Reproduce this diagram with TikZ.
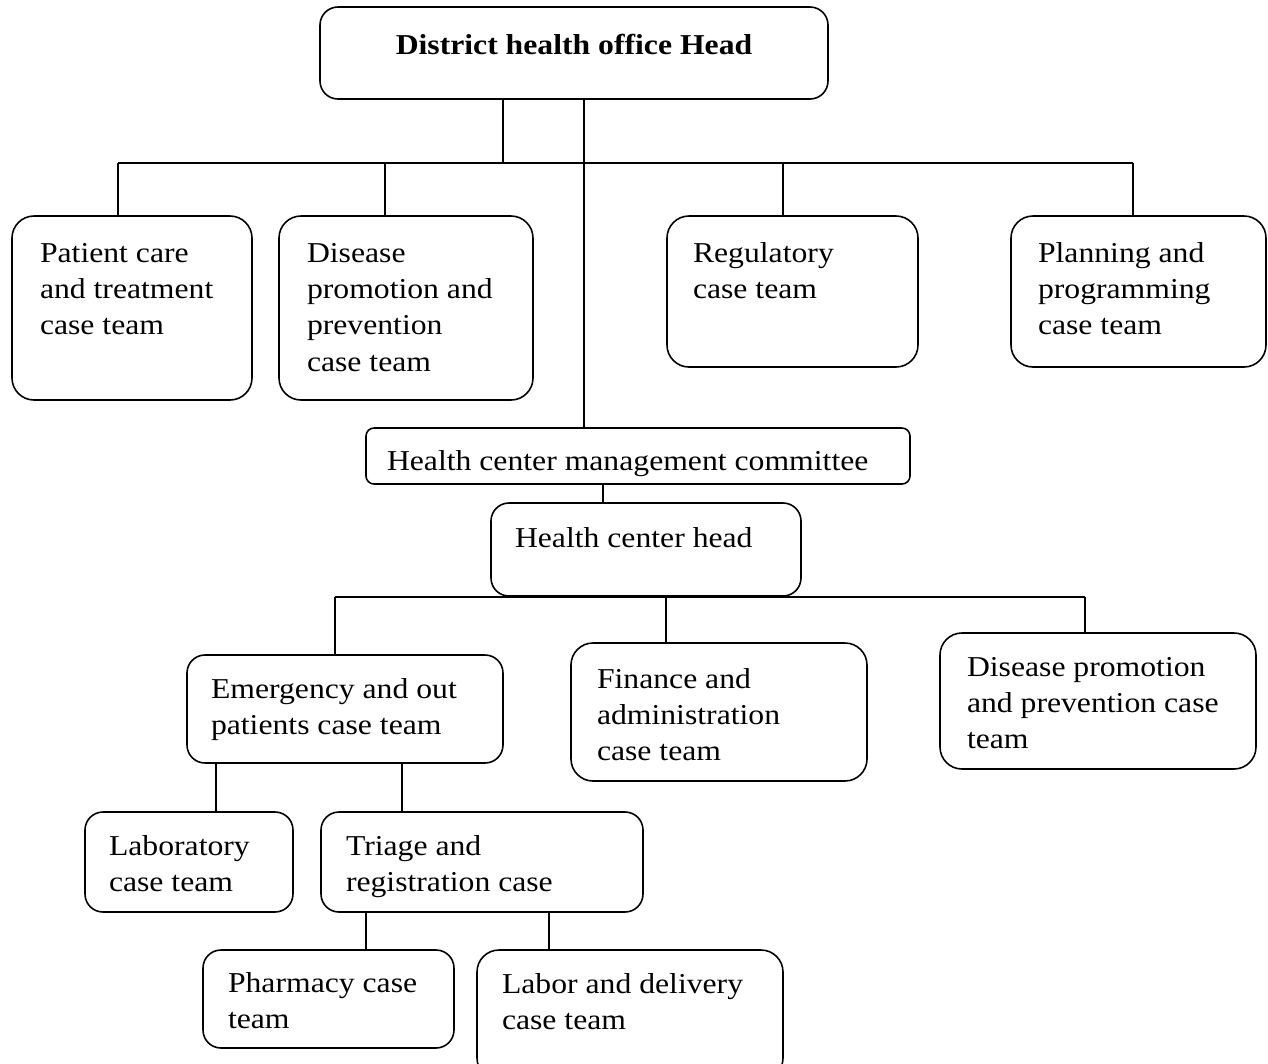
\documentclass[tikz,border=0pt]{standalone}
\usepackage{fontspec}
\setmainfont{Liberation Serif}[FakeStretch=1.1]
\usetikzlibrary{fit}

\begin{document}
\begin{tikzpicture}[x=0.02cm, y=-0.02cm, line width=0.9pt,
  cbox/.style={draw, rounded corners=0.44cm, inner sep=0pt},
  txt/.style={anchor=north west, inner sep=0pt, align=left, font=\fontsize{16.4}{20.7}\selectfont}]

  \clip (0,0) rectangle (1268,1063);

  % boxes
  \node[cbox, rounded corners=0.36cm, fit={(320,7) (828,99)}] (head) {};
  \node[cbox, fit={(12,216) (252,400)}] (pcare) {};
  \node[cbox, fit={(279,216) (533,400)}] (dpp) {};
  \node[cbox, fit={(667,216) (918,367)}] (reg) {};
  \node[cbox, fit={(1011,216) (1266,367)}] (plan) {};
  \node[cbox, rounded corners=0.16cm, fit={(366,428) (910,484)}] (hcmc) {};
  \node[cbox, rounded corners=0.36cm, fit={(491,503) (801,596)}] (hch) {};
  \node[cbox, rounded corners=0.36cm, fit={(187,655) (503,763)}] (emerg) {};
  \node[cbox, fit={(571,643) (867,781)}] (fin) {};
  \node[cbox, fit={(940,633) (1256,769)}] (dpp2) {};
  \node[cbox, rounded corners=0.36cm, fit={(85,812) (293,912)}] (lab) {};
  \node[cbox, rounded corners=0.36cm, fit={(321,812) (643,912)}] (triage) {};
  \node[cbox, rounded corners=0.36cm, fit={(203,950) (454,1048)}] (pharm) {};
  \node[cbox, fit={(477,950) (783,1080)}] (labor) {};

  % texts
  \node[txt, anchor=north, font=\fontsize{16.4}{20.7}\selectfont\bfseries] (headT) at ([yshift=-27*0.02cm]head.north) {District health office Head};
  \node[txt] (pcareT) at ([shift={(28,27)}]pcare.north west) {Patient care\\and treatment\\case team};
  \node[txt] (dppT) at ([shift={(28,27)}]dpp.north west) {Disease\\promotion and\\prevention\\case team};
  \node[txt] (regT) at ([shift={(26,26)}]reg.north west) {Regulatory\\case team};
  \node[txt] (planT) at ([shift={(27,26)}]plan.north west) {Planning and\\programming\\case team};
  \node[txt] (hcmcT) at ([shift={(21,22)}]hcmc.north west) {Health center management committee};
  \node[txt] (hchT) at ([shift={(24,24)}]hch.north west) {Health center head};
  \node[txt] (emergT) at ([shift={(24,23)}]emerg.north west) {Emergency and out\\patients case team};
  \node[txt] (finT) at ([shift={(26,25)}]fin.north west) {Finance and\\administration\\case team};
  \node[txt] (dpp2T) at ([shift={(27,24)}]dpp2.north west) {Disease promotion\\and prevention case\\team};
  \node[txt] (labT) at ([shift={(24,23)}]lab.north west) {Laboratory\\case team};
  \node[txt] (triageT) at ([shift={(25,23)}]triage.north west) {Triage and\\registration case};
  \node[txt] (pharmT) at ([shift={(25,22)}]pharm.north west) {Pharmacy case\\team};
  \node[txt] (laborT) at ([shift={(25,23)}]labor.north west) {Labor and delivery\\case team};

  % upper connectors
  \coordinate (busA) at (118,163);
  \coordinate (busB) at (1133,163);
  \draw (busA) -- (busB);
  \draw (head.south -| 503,0) -- (503,0 |- busA);
  \draw (head.south -| 584,0) -- (hcmc.north -| 584,0);
  \foreach \xx/\nn in {118/pcare, 385/dpp, 783/reg, 1133/plan}
    \draw (\xx,0 |- busA) -- (\nn.north -| \xx,0);

  % lower connectors
  \draw (hcmc.south -| 603,0) -- (hch.north -| 603,0);
  \coordinate (busC) at (335,597);
  \coordinate (busD) at (1085,597);
  \draw (busC) -- (busD);
  \foreach \xx/\nn in {335/emerg, 666/fin, 1085/dpp2}
    \draw (\xx,0 |- busC) -- (\nn.north -| \xx,0);
  \foreach \xx/\nn in {216/lab, 402/triage}
    \draw (emerg.south -| \xx,0) -- (\nn.north -| \xx,0);
  \foreach \xx/\nn in {366/pharm, 549/labor}
    \draw (triage.south -| \xx,0) -- (\nn.north -| \xx,0);

\end{tikzpicture}
\end{document}
